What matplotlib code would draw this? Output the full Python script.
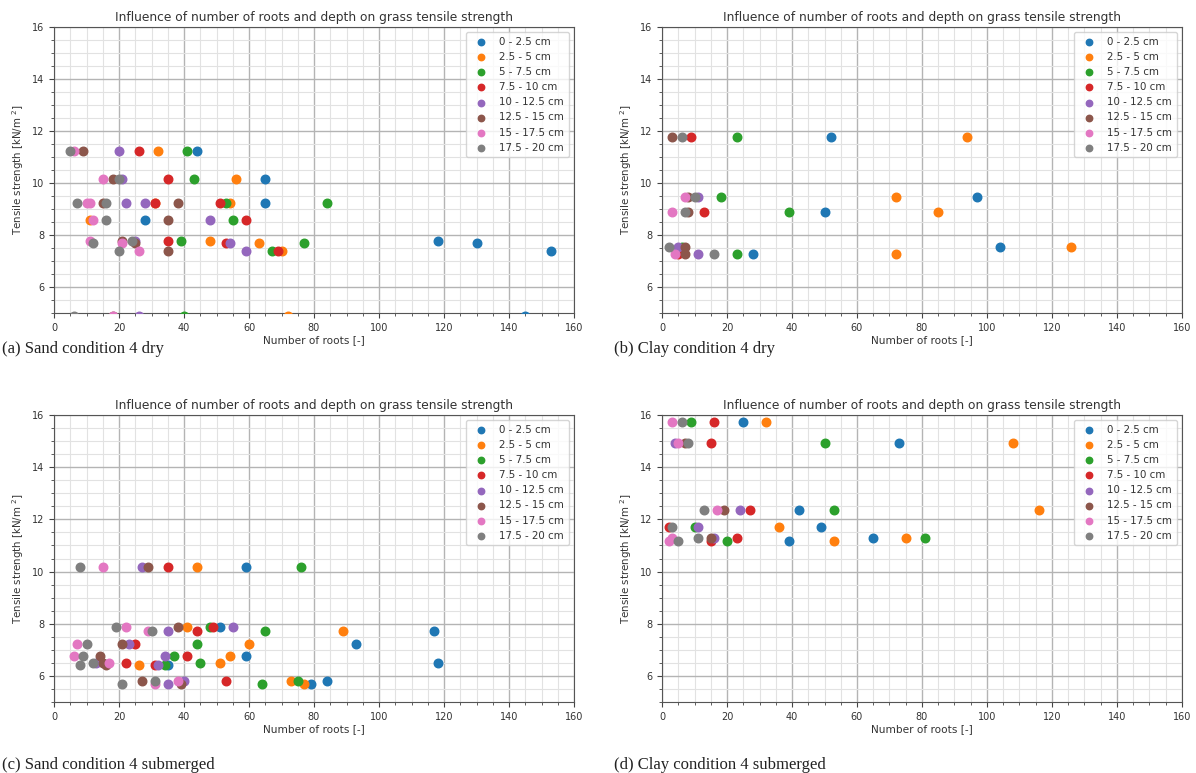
import matplotlib
matplotlib.use('Agg')
import matplotlib.pyplot as plt
from matplotlib.ticker import MultipleLocator

depths = ['0 - 2.5 cm', '2.5 - 5 cm', '5 - 7.5 cm', '7.5 - 10 cm',
          '10 - 12.5 cm', '12.5 - 15 cm', '15 - 17.5 cm', '17.5 - 20 cm']

# (a) Sand condition 4 dry -- one list per depth class
sand_dry_x = [
    [44, 65, 65, 28, 118, 130, 153, 145],
    [32, 56, 31, 54, 11, 48, 63, 70, 72],
    [41, 43, 53, 84, 55, 39, 77, 67, 40],
    [26, 35, 31, 51, 59, 35, 53, 69],
    [20, 21, 22, 28, 48, 25, 54, 59, 26],
    [9, 18, 15, 38, 35, 21, 25, 35, 18],
    [6, 15, 10, 11, 12, 11, 21, 26, 18],
    [5, 20, 7, 16, 16, 12, 24, 20, 6],
]
sand_dry_y = [
    [11.22, 10.17, 9.22, 8.58, 7.78, 7.69, 7.40, 4.88],
    [11.22, 10.17, 9.22, 9.22, 8.58, 7.78, 7.69, 7.40, 4.88],
    [11.22, 10.17, 9.22, 9.22, 8.58, 7.78, 7.69, 7.40, 4.88],
    [11.22, 10.17, 9.22, 9.22, 8.58, 7.78, 7.69, 7.40],
    [11.22, 10.17, 9.22, 9.22, 8.58, 7.78, 7.69, 7.40, 4.88],
    [11.22, 10.17, 9.22, 9.22, 8.58, 7.78, 7.69, 7.40, 4.88],
    [11.22, 10.17, 9.22, 9.22, 8.58, 7.78, 7.69, 7.40, 4.88],
    [11.22, 10.17, 9.22, 9.22, 8.58, 7.69, 7.78, 7.40, 4.88],
]

# (b) Clay condition 4 dry
clay_dry_x = [
    [52, 97, 50, 104, 28],
    [94, 72, 85, 126, 72],
    [23, 18, 39, 6, 23],
    [9, 13, 5],
    [11, 5, 11],
    [3, 8, 8, 7, 7],
    [7, 3, 4],
    [6, 10, 7, 2, 16],
]
clay_dry_y = [
    [11.78, 9.47, 8.87, 7.52, 7.28],
    [11.78, 9.47, 8.87, 7.52, 7.28],
    [11.78, 9.47, 8.87, 7.52, 7.28],
    [11.78, 8.87, 7.28],
    [9.47, 7.52, 7.28],
    [11.78, 9.47, 8.87, 7.52, 7.28],
    [9.47, 8.87, 7.28],
    [11.78, 9.47, 8.87, 7.52, 7.28],
]

# (c) Sand condition 4 submerged
sand_sub_x = [
    [59, 51, 117, 93, 59, 35, 118, 79, 84],
    [44, 41, 89, 60, 54, 26, 51, 73, 77],
    [76, 48, 65, 44, 37, 34, 45, 75, 64],
    [35, 49, 44, 25, 41, 22, 31, 53],
    [27, 55, 35, 23, 34, 13, 32, 40, 35],
    [29, 38, 21, 14, 15, 16, 27, 39],
    [15, 22, 29, 7, 6, 17, 38, 31],
    [8, 19, 30, 10, 9, 8, 12, 31, 21],
]
sand_sub_y = [
    [10.17, 7.88, 7.72, 7.23, 6.77, 6.43, 6.50, 5.68, 5.80],
    [10.17, 7.88, 7.72, 7.23, 6.77, 6.43, 6.50, 5.80, 5.68],
    [10.17, 7.88, 7.72, 7.23, 6.77, 6.43, 6.50, 5.80, 5.68],
    [10.17, 7.88, 7.72, 7.23, 6.77, 6.50, 6.43, 5.80],
    [10.17, 7.88, 7.72, 7.23, 6.77, 6.50, 6.43, 5.80, 5.68],
    [10.17, 7.88, 7.23, 6.77, 6.50, 6.43, 5.80, 5.68],
    [10.17, 7.88, 7.72, 7.23, 6.77, 6.50, 5.80, 5.68],
    [10.17, 7.88, 7.72, 7.23, 6.77, 6.43, 6.50, 5.80, 5.68],
]

# (d) Clay condition 4 submerged
clay_sub_x = [
    [25, 73, 42, 49, 65, 39],
    [32, 108, 116, 36, 75, 53],
    [9, 50, 53, 10, 81, 20],
    [16, 15, 27, 2, 23, 15],
    [4, 24, 11, 16],
    [7, 19, 15],
    [3, 5, 17, 3, 2],
    [6, 8, 13, 3, 11, 5],
]
clay_sub_y = [
    [15.72, 14.92, 12.35, 11.70, 11.30, 11.17],
    [15.72, 14.92, 12.35, 11.70, 11.30, 11.17],
    [15.72, 14.92, 12.35, 11.70, 11.30, 11.17],
    [15.72, 14.92, 12.35, 11.70, 11.30, 11.17],
    [14.92, 12.35, 11.70, 11.30],
    [14.92, 12.35, 11.30],
    [15.72, 14.92, 12.35, 11.30, 11.17],
    [15.72, 14.92, 12.35, 11.70, 11.30, 11.17],
]

captions = ['(a) Sand condition 4 dry', '(b) Clay condition 4 dry',
            '(c) Sand condition 4 submerged', '(d) Clay condition 4 submerged']

panels = [(sand_dry_x, sand_dry_y), (clay_dry_x, clay_dry_y),
          (sand_sub_x, sand_sub_y), (clay_sub_x, clay_sub_y)]

W, H = 1196, 773
fig = plt.figure(figsize=(W / 100, H / 100), dpi=100)

# axes boxes in pixels: left, top, right, bottom
boxes = [(54, 27, 574, 313), (662, 27, 1182, 313),
         (54, 415, 574, 702), (662, 415, 1182, 702)]
cap_pos = [(2, 349), (614, 349), (2, 765), (614, 765)]

txt = '#333333'
for i, ((xs, ys), (l, t, r, b)) in enumerate(zip(panels, boxes)):
    ax = fig.add_axes([l / W, 1 - b / H, (r - l) / W, (b - t) / H])
    for k, lab in enumerate(depths):
        ax.scatter(xs[k], ys[k], s=38, color=f'C{k}', label=lab, zorder=3)
    ax.set_xlim(0, 160)
    ax.set_ylim(5, 16)
    ax.xaxis.set_major_locator(MultipleLocator(20))
    ax.xaxis.set_minor_locator(MultipleLocator(5))
    ax.yaxis.set_major_locator(MultipleLocator(2))
    ax.yaxis.set_minor_locator(MultipleLocator(0.5))
    ax.grid(which='major', color='#b4b4b4', linewidth=1.0)
    ax.grid(which='minor', color='#e2e2e2', linewidth=0.8)
    ax.set_axisbelow(True)
    ax.tick_params(which='both', labelsize=7, colors='#444444', labelcolor=txt)
    ax.tick_params(which='major', length=3.5)
    ax.tick_params(which='minor', length=2)
    for sp in ax.spines.values():
        sp.set_color('#555555')
    ax.set_title('Influence of number of roots and depth on grass tensile strength',
                 fontsize=8.8, color=txt, pad=4)
    ax.set_xlabel('Number of roots [-]', fontsize=7.6, color=txt, labelpad=2)
    ax.set_ylabel('Tensile strength [kN/m $^2$]', fontsize=7.4, color=txt, labelpad=4)
    leg = ax.legend(loc='upper right', fontsize=7.4, labelspacing=0.5,
                    handletextpad=0.8, borderpad=0.45, markerscale=0.75,
                    framealpha=0.8)
    for tx in leg.get_texts():
        tx.set_color(txt)
    cx, cy = cap_pos[i]
    fig.text(cx / W, 1 - cy / H, captions[i], fontsize=12,
             family='Liberation Serif', va='center', ha='left', color='#222222')

plt.savefig('out.png', dpi=100)
